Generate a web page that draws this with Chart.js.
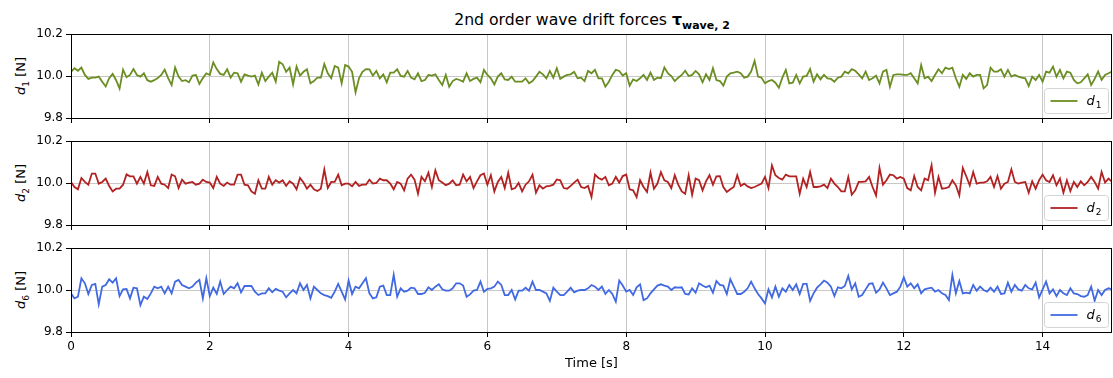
<!DOCTYPE html>
<html>
<head>
<meta charset="utf-8">
<script src="https://cdn.jsdelivr.net/npm/chart.js@4.4.1/dist/chart.umd.min.js"></script>
<style>
  body { margin: 0; background: #fff; }
  #fig { position: relative; width: 1113px; height: 378px; font-family: 'DejaVu Sans', sans-serif; color: #000; }
  #fig canvas { position: absolute; left: 0; }
  .title { position: absolute; left: 592px; top: 21px; transform: translate(-50%, -50%); font-size: 15.7px; white-space: nowrap; }
  .ylab { position: absolute; left: 22px; transform: translate(-50%, -50%) rotate(-90deg); font-size: 13px; white-space: nowrap; }
  .ylab sub, .title sub { font-size: 70%; }
</style>
</head>
<body>
<div id="fig">
  <div class="title">2nd order wave drift forces <b>τ<sub>wave, 2</sub></b></div>
  <div class="ylab" style="top:76px"><i>d</i><sub>1</sub> [N]</div>
  <div class="ylab" style="top:183px"><i>d</i><sub>2</sub> [N]</div>
  <div class="ylab" style="top:290px"><i>d</i><sub>6</sub> [N]</div>
  <canvas id="c1" width="1113" height="129" style="top:0px"></canvas>
  <canvas id="c2" width="1113" height="111" style="top:125px"></canvas>
  <canvas id="c3" width="1113" height="146" style="top:232px"></canvas>
</div>
<script>
// sampling step of the time series [s]
const dt = 0.05;
const xTicks = [0, 2, 4, 6, 8, 10, 12, 14];
const yTicks = [9.8, 10.0, 10.2];

// d1 (surge) [N]
const d1 = [
  10.02, 10.037, 10.025, 10.04, 10.005, 9.986, 9.992, 9.992, 9.997, 9.973,
  9.95, 9.99, 10.01, 9.98, 9.94, 10.03, 9.994, 10.005, 10.033, 10.005,
  9.997, 10.013, 9.98, 9.973, 9.98, 9.99, 10.005, 10.03, 9.99, 9.957,
  10.04, 9.997, 9.976, 9.98, 9.97, 10.002, 10.005, 9.962, 9.99, 10.013,
  10.005, 10.065, 10.033, 10.01, 10.005, 10.032, 9.992, 10.016, 10.013, 9.973,
  10.008, 10.002, 9.997, 10.002, 9.96, 10.016, 9.976, 9.997, 10.016, 9.973,
  10.068, 10.056, 10.02, 10.04, 9.96, 10.045, 10.002, 10.02, 10.032, 9.965,
  9.976, 9.992, 9.992, 10.057, 10.013, 9.99, 10.048, 10.04, 9.965, 10.052,
  10.045, 10.02, 9.922, 9.989, 10.02, 10.033, 10.032, 10.002, 10.024, 9.989,
  10.008, 9.97, 10.016, 10.016, 10.032, 10.0, 9.997, 10.024, 9.992,
  9.984, 10.013, 9.976, 9.981, 10.005, 10.002, 10.008, 9.981, 9.957,
  10.005, 9.949, 9.976, 9.986, 9.981, 9.973, 10.013, 9.976, 9.986, 9.992,
  9.97, 10.029, 10.005, 9.989, 9.96, 9.997, 10.013, 9.984, 9.981,
  9.997, 9.973, 9.973, 9.973, 9.989, 9.965, 9.976, 9.997, 10.02, 10.008,
  9.989, 10.024, 9.992, 10.037, 9.986, 9.997, 10.005, 10.008, 10.02, 9.989,
  9.992, 9.976, 10.024, 10.013, 10.029, 9.989, 9.989, 9.949, 9.973, 10.005,
  10.029, 10.024, 10.002,
  10.013, 9.954, 9.984, 9.976, 9.989, 10.005, 9.981, 10.016, 9.981,
  9.992, 9.989, 10.041, 10.013, 10.0, 9.976, 9.992, 10.005, 10.025,
  10.0, 10.005, 10.024, 10.008, 9.97, 10.008, 9.981, 10.037, 9.981,
  9.976, 9.954, 9.997, 10.013, 10.016, 10.021, 10.013, 9.992, 9.997, 10.021,
  10.072, 9.997, 9.992, 9.965, 9.976, 9.981, 9.968, 9.944, 9.992, 10.029,
  9.965, 9.968, 10.005, 9.965, 9.997, 10.0, 10.033, 9.973, 10.008,
  9.984, 10.005, 9.989, 9.986, 9.973, 9.992, 9.997, 10.021, 10.013,
  10.033, 10.025, 10.008, 9.989, 10.021, 9.981, 9.989, 10.002, 9.965, 10.021,
  10.029, 9.949, 10.005, 10.008, 10.008,
  10.005, 10.005, 10.013, 9.989, 9.965, 10.052, 9.989, 9.997, 9.976, 10.005,
  10.032, 10.013, 10.04, 10.033, 10.04, 9.989, 9.949, 10.005, 9.986, 10.013,
  9.997, 10.005, 10.005, 9.941, 9.957, 10.04, 10.021, 10.021, 10.032, 9.997,
  10.029, 9.997, 10.005, 9.997, 9.992, 9.989, 9.952, 9.997, 9.981, 10.005,
  9.973, 10.021, 10.016, 10.045, 9.997, 10.029, 9.989, 10.021, 10.016, 9.981,
  9.965, 9.97, 9.989, 10.008, 9.957, 9.986, 10.021, 9.981, 10.005, 10.013,
  10.021
];

// d2 (sway) [N]
const d2 = [
  10.005, 9.981, 9.97, 10.024, 10.005, 9.992, 10.045, 10.045, 9.997, 10.005,
  10.021, 9.986, 9.96, 9.973, 9.973, 9.992, 10.041, 10.032, 10.032, 9.997,
  10.029, 9.997, 10.052, 9.989, 9.986, 10.029, 9.997, 9.992, 9.976, 10.04,
  10.032, 9.976, 10.016, 9.997, 10.002, 10.005, 9.992, 9.997, 10.016, 10.005,
  10.002, 9.976, 10.029, 9.997, 9.986, 10.002, 9.992, 9.992, 10.04, 10.04,
  9.992, 9.989, 9.96, 9.949, 10.013, 9.973, 9.973, 10.029, 9.992, 10.013,
  10.002, 10.013, 9.986, 10.008, 9.997, 9.97, 10.024, 10.002, 9.973, 9.992,
  9.97, 9.962, 9.973, 10.064, 9.976, 10.005, 10.005, 10.04, 9.989, 9.997,
  9.997, 9.984, 10.005, 9.986, 9.992, 9.992, 10.016, 9.997, 10.0,
  10.021, 10.013, 10.013, 9.997, 9.97, 10.005, 9.997, 9.965, 10.021,
  10.04, 10.016, 9.949, 10.029, 10.008, 10.049, 9.981, 10.06, 10.013, 10.002,
  9.989, 9.997, 10.013, 9.989, 9.992, 10.04, 10.008, 10.029, 9.976, 10.008,
  10.037, 10.045, 9.992, 10.037, 9.96, 10.005, 10.029, 9.976, 10.049, 9.97,
  9.976, 10.0, 9.96, 9.992, 10.008, 10.04, 9.954, 9.989, 9.973, 9.984,
  9.986, 9.992, 10.017, 10.013, 9.976, 9.973, 9.986, 10.002, 10.016, 9.981,
  9.976, 9.986, 9.933, 10.04, 10.024, 10.016, 10.029, 9.989, 9.997, 10.029,
  10.002, 10.033,
  10.04, 9.97, 9.965, 9.933, 10.013, 9.981, 9.957, 10.049, 9.973, 9.997,
  10.052, 10.013, 10.005, 9.976, 10.037, 9.992, 9.96, 9.949, 10.037, 9.944,
  10.021, 10.013, 9.965, 10.008, 10.037, 9.992, 10.032, 10.033, 9.981, 9.957,
  9.97, 9.981, 10.037, 9.986, 9.997, 9.984, 9.976, 9.981, 9.989, 9.997,
  10.029, 9.976, 10.084, 10.037, 10.024, 10.016, 10.04, 10.032, 10.032, 10.032,
  9.949, 10.021, 9.981, 10.052, 9.981, 9.981, 9.984, 9.992, 9.976, 10.021,
  9.997, 9.981, 9.96, 9.96, 10.029, 9.944, 9.965, 10.005, 10.005, 10.008,
  10.029, 9.981, 9.941, 10.072, 9.992, 10.013, 10.04, 10.037, 10.021, 10.029,
  10.021, 9.976, 9.965, 10.033, 9.981, 9.965, 10.021, 10.013, 10.084, 9.954,
  10.029, 9.973, 9.976,
  9.981, 10.013, 9.989, 9.941, 10.072, 10.032,
  9.989, 10.052, 9.997, 10.002, 10.002, 10.008, 10.029, 9.981, 10.033, 9.973,
  9.997, 10.005, 10.065, 10.005, 9.997, 10.002,
  10.005, 9.954, 10.008,
  9.973, 10.013, 10.04, 10.013, 10.005, 10.037, 9.989, 10.021, 9.954, 10.013,
  9.962, 10.005, 9.981, 10.008, 9.989,
  10.005, 10.029, 10.005, 9.973,
  10.052, 10.002, 10.021, 10.005
];

// d6 (yaw) [N]
const d6 = [
  9.984, 9.96, 9.968, 10.056, 10.032, 9.981, 10.024, 10.029, 9.932, 10.016,
  10.024, 10.051, 10.035, 10.056, 9.971, 10.003,
  10.005, 9.96, 10.011,
  10.008, 9.928, 9.968, 9.957, 9.984, 10.016, 10.008, 10.016, 9.984, 10.016,
  9.984, 10.04, 10.048, 10.024, 10.016,
  10.008, 10.016, 10.035, 10.048,
  9.96, 10.056, 9.971, 10.011, 9.981, 10.04, 9.981, 10.0, 10.016, 10.008,
  10.032, 9.989, 10.019, 10.019, 10.019, 9.992, 9.976, 9.984, 9.984, 10.008,
  9.989, 10.005,
  9.997, 9.992, 9.965, 9.984, 10.0, 9.984, 10.032,
  10.0, 10.024, 9.96, 10.016, 10.0, 9.984, 9.976, 9.971, 9.963, 9.992,
  10.029, 9.992, 9.955,
  10.045, 9.981, 10.016, 10.008, 10.032, 10.056, 9.984, 9.96, 9.965, 10.016,
  10.021, 9.976, 9.976, 10.072, 9.968, 10.008, 9.992, 9.997,
  10.011,
  10.008, 9.981, 9.981, 9.987, 10.013, 10.0, 10.016, 10.027, 10.003, 9.997,
  9.997, 10.008, 10.032, 10.032, 10.021, 9.968, 9.979, 9.997, 10.0, 10.04,
  9.992, 10.005, 10.008, 10.016, 10.04, 10.024, 9.976, 9.976, 10.0, 9.955,
  9.997,
  9.997, 10.011, 9.997, 10.04, 10.0, 10.0, 9.992, 9.984,
  9.948, 10.011, 9.992, 9.976, 9.976,
  9.992, 10.011, 9.989, 9.997,
  10.0, 10.0, 10.008, 10.024, 10.016, 10.0, 10.016, 9.981, 10.0, 9.981,
  9.944, 10.045, 10.021,
  9.992, 10.0, 9.976, 10.013, 10.027, 9.952, 9.96, 9.984, 10.003, 10.021,
  10.027, 10.021,
  10.016, 10.0, 10.013,
  10.011, 10.013, 9.981,
  9.979, 10.008, 9.987, 10.032, 10.021, 10.013, 10.021, 9.987, 10.043, 10.024,
  10.021, 9.981, 10.051, 10.016, 9.981, 9.981, 9.992,
  10.008, 10.04,
  10.008, 9.981, 9.96, 9.936, 10.003, 9.965, 10.016, 9.968, 10.008, 9.992,
  10.024, 10.0, 10.027, 9.981, 10.029, 10.029, 9.948, 9.984, 10.011, 10.027,
  10.045, 10.035, 10.016, 9.971, 10.013, 10.008, 10.019, 10.067, 10.003, 10.032,
  9.968, 9.976, 10.003,
  10.029, 10.032, 9.987, 10.003, 10.035, 10.008,
  9.976, 9.984, 9.992, 10.016,
  10.06, 10.016, 10.032, 10.008, 10.027, 9.984, 10.003, 10.008, 10.011, 9.992,
  10.0, 9.984, 9.976, 9.952, 10.072, 9.984, 10.043, 9.984, 9.987,
  9.984, 10.024, 9.997, 10.016, 10.0, 9.992, 10.011, 9.992, 10.016, 9.981,
  9.984, 10.035, 9.992, 10.024, 10.003, 9.997, 10.024, 10.008, 10.003,
  10.035, 9.965, 10.003, 10.04, 9.984, 10.003, 9.971, 10.0, 9.984, 9.976,
  10.008, 9.984, 9.981, 9.971, 9.968,
  9.976, 10.016, 9.949, 10.0,
  9.976, 10.0, 10.008, 10.003
];

Chart.defaults.font.family = "'DejaVu Sans', sans-serif";
Chart.defaults.color = '#000';

// black box round the plot area (matplotlib spines)
const framePlugin = {
  id: 'frame',
  afterDraw(chart) {
    const { ctx, chartArea: a } = chart;
    ctx.save();
    ctx.strokeStyle = '#000';
    ctx.lineWidth = 1;
    ctx.strokeRect(Math.round(a.left) + 0.5, Math.round(a.top) + 0.5,
      Math.round(a.right - a.left) - 1, Math.round(a.bottom - a.top));
    ctx.restore();
  }
};

// legend box in the lower right corner
const cornerLegend = {
  id: 'cornerLegend',
  afterDraw(chart) {
    const { ctx, chartArea: a } = chart;
    const ds = chart.data.datasets[0];
    const w = 64, h = 25;
    const x = Math.round(a.right - 4 - w) + 0.5;
    const y = Math.round(a.bottom - 5 - h) + 0.5;
    ctx.save();
    ctx.beginPath();
    ctx.roundRect(x, y, w, h, 3);
    ctx.fillStyle = 'rgba(255,255,255,0.8)';
    ctx.fill();
    ctx.strokeStyle = '#d4d4d4';
    ctx.lineWidth = 1;
    ctx.stroke();
    ctx.beginPath();
    ctx.moveTo(x + 6, y + h / 2);
    ctx.lineTo(x + 33, y + h / 2);
    ctx.strokeStyle = ds.borderColor;
    ctx.lineWidth = 1.8;
    ctx.stroke();
    ctx.fillStyle = '#000';
    ctx.textBaseline = 'alphabetic';
    ctx.font = "italic 13px 'DejaVu Sans'";
    ctx.fillText(ds.label, x + 42, y + h / 2 + 4);
    const lw = ctx.measureText(ds.label).width;
    ctx.font = "9px 'DejaVu Sans'";
    ctx.fillText(ds.sub, x + 42 + lw + 1, y + h / 2 + 7);
    ctx.restore();
  }
};

function makePanel(id, values, color, sub, padTop, xHeight, showX) {
  const pts = values.map((v, i) => ({ x: i * dt, y: v }));
  return new Chart(document.getElementById(id), {
    type: 'line',
    data: {
      datasets: [{
        label: 'd',
        sub: sub,
        data: pts,
        borderColor: color,
        borderWidth: 1.8,
        pointRadius: 0,
        tension: 0,
        fill: false
      }]
    },
    options: {
      responsive: false,
      animation: false,
      devicePixelRatio: 1,
      layout: { padding: { top: padTop, right: 1, left: 0, bottom: 0 } },
      plugins: { legend: { display: false }, tooltip: { enabled: false } },
      scales: {
        x: {
          type: 'linear',
          min: 0,
          max: 15,
          afterBuildTicks: s => { s.ticks = xTicks.map(v => ({ value: v })); },
          afterFit: s => { s.height = xHeight; },
          border: { display: false },
          grid: { color: '#c8c8c8', lineWidth: 1, tickLength: 5, tickColor: '#000' },
          ticks: { display: showX, font: { size: 12 }, padding: 3, maxRotation: 0 },
          title: { display: showX, text: 'Time [s]', font: { size: 13 }, padding: { top: 0, bottom: 7 } }
        },
        y: {
          min: 9.8,
          max: 10.2,
          afterBuildTicks: s => { s.ticks = yTicks.map(v => ({ value: v })); },
          afterFit: s => { s.width = 71; },
          border: { display: false },
          grid: { color: '#c8c8c8', lineWidth: 1, tickLength: 5, tickColor: '#000' },
          ticks: { font: { size: 12 }, padding: 3, callback: v => v.toFixed(1) }
        }
      }
    },
    plugins: [framePlugin, cornerLegend]
  });
}

// x axis box is 11px tall on the upper panels so the y labels fit without shrinking the plot
makePanel('c1', d1, '#6b8e23', '1', 34, 11, false);
makePanel('c2', d2, '#b22222', '2', 16, 11, false);
makePanel('c3', d6, '#4169e1', '6', 16, 46, true);
</script>
</body>
</html>
